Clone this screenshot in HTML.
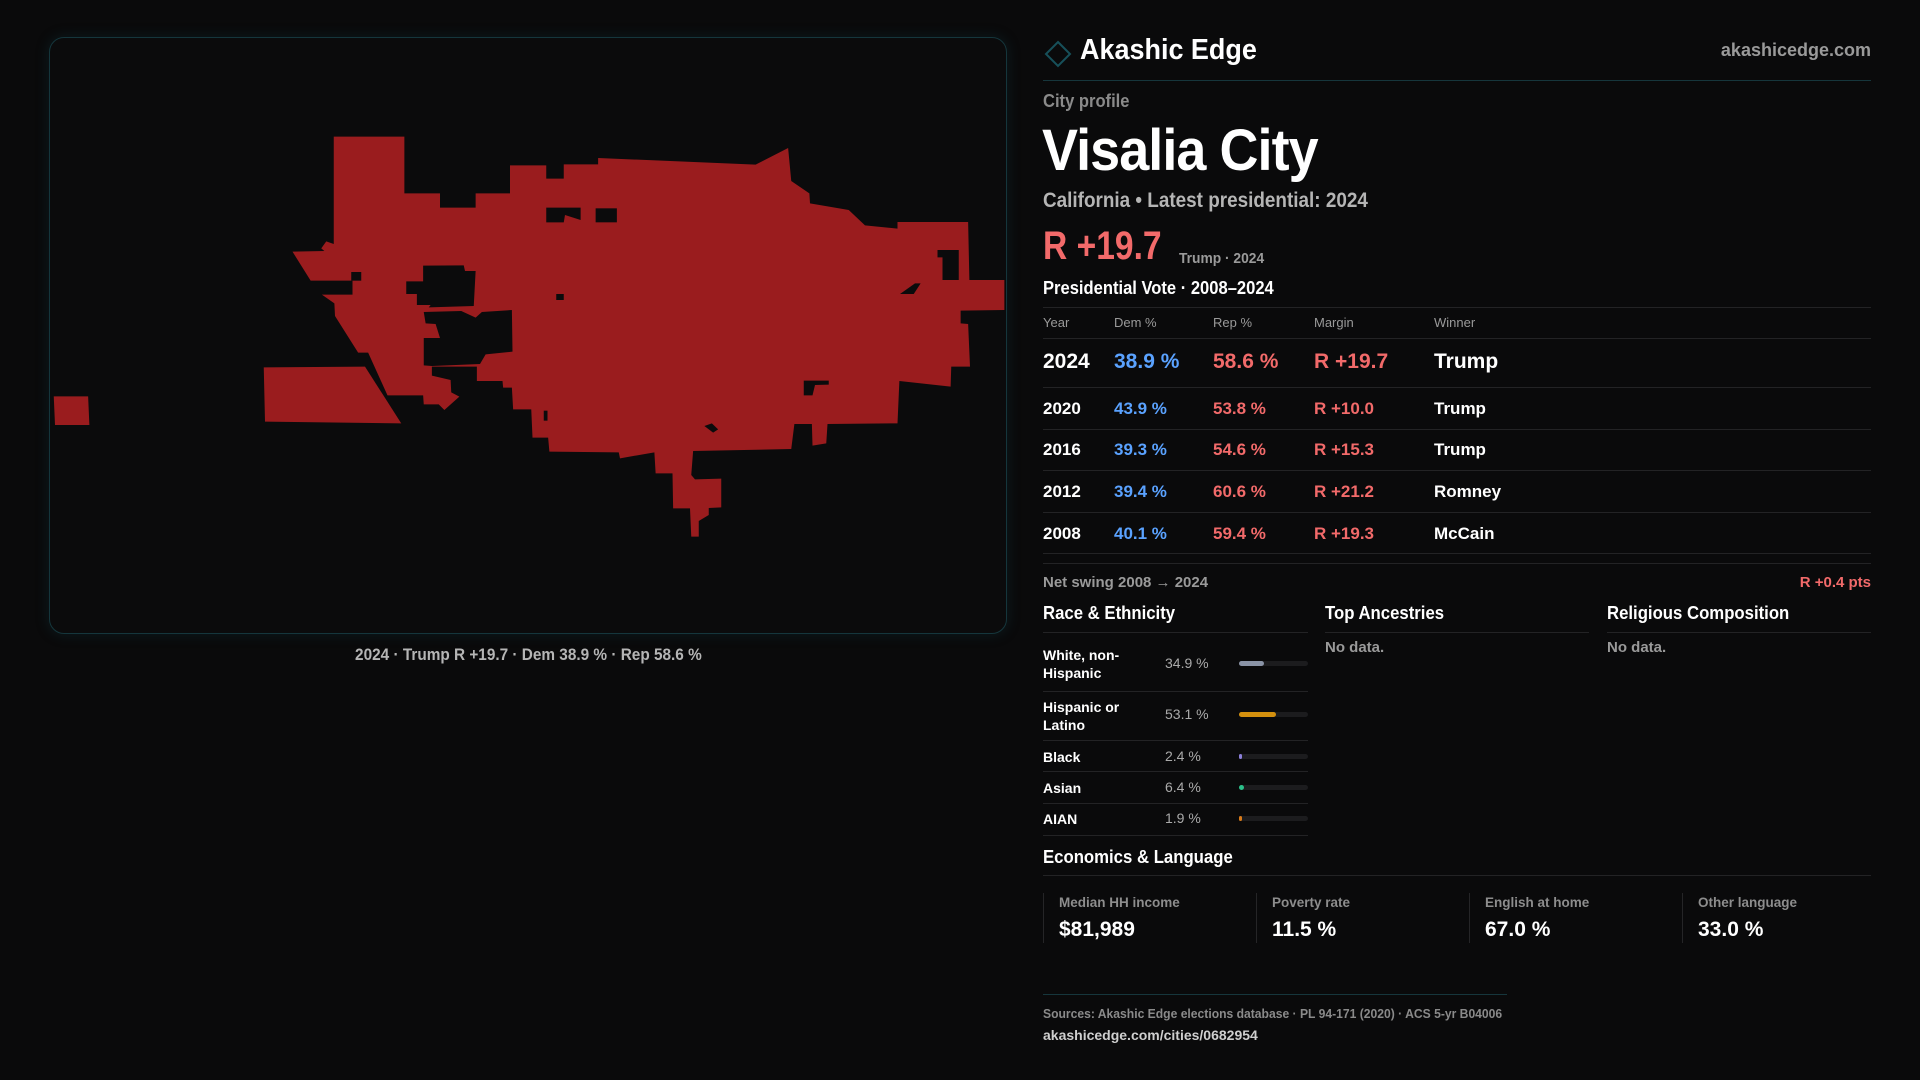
<!DOCTYPE html>
<html><head><meta charset="utf-8"><style>
*{margin:0;padding:0;box-sizing:border-box}
body{width:1920px;height:1080px;background:#0a0a0b;font-family:"Liberation Sans",sans-serif;color:#fff;position:relative;overflow:hidden}
.a{position:absolute;white-space:nowrap}
.mapbox{position:absolute;left:49px;top:37px;width:958px;height:597px;border:1px solid #15363c;border-radius:15px;background:#0b0b0c;box-shadow:0 0 14px rgba(20,80,90,.25)}
.ln{position:absolute;height:1px;background:#232325}
.g{color:#9a9a9a}
.red{color:#f26a6a}.blue{color:#5aa2ff}
.row{position:absolute;left:1043px;width:828px;font-weight:bold;font-size:17px;white-space:nowrap}
.row span{position:absolute;top:0;white-space:nowrap}
.bar{position:absolute;left:1239px;width:69px;height:5px;border-radius:3px;background:#1c1c1e}
.bar i{display:block;height:5px;border-radius:3px}
.lab{position:absolute;left:1043px;font-size:14px;font-weight:bold;line-height:18px;white-space:nowrap}
.pct{position:absolute;left:1165px;font-size:14px;color:#aaa;white-space:nowrap}
.cell{position:absolute;top:893px;height:50px;border-left:1px solid #252527;padding-left:15px;white-space:nowrap}
.cell .l{font-size:13.5px;color:#8d8d8d;font-weight:bold;margin-top:2px}
.cell .v{font-size:21px;font-weight:bold;margin-top:8px}
.sx{display:inline-block;transform-origin:left top}
</style></head><body>
<div class="mapbox"></div>
<svg class="a" style="left:40px;top:120px" width="980" height="440" viewBox="0 0 1568 1320" preserveAspectRatio="none">
<g fill="#9a1c1e">
<polygon points="470,50 583,50 583,220 640,220 640,263 697,263 697,220 752,220 752,136 810,136 810,176 838,176 838,133 893,133 893,114 1145,134 1197,84 1202,183 1231,220 1232,250 1294,270 1320,316 1372,326 1372,306 1485,306 1487,480 1543,480 1543,570 1473,572 1473,610 1485,612 1488,740 1458,740 1457,800 1375,783 1372,910 1260,912 1258,970 1236,977 1235,912 1207,912 1202,987 1045,993 1042,1065 1048,1078 1090,1076 1090,1162 1070,1164 1070,1185 1054,1203 1054,1250 1042,1250 1040,1165 1013,1165 1012,1060 985,1060 983,997 928,1015 926,997 815,995 813,953 788,953 786,868 757,868 755,803 741,803 740,783 699,783 699,740 627,740 627,767 657,780 658,817 671,830 647,870 638,853 614,853 613,826 556,826 525,698 509,698 472,588 471,550 451,524 500,524 500,482 433,482 404,395 455,393 450,385 458,364 470,372"/>
<polygon points="358,742 520,740 578,910 360,905"/>
<polygon points="22,829 77,829 79,915 24,915"/>
</g>
<g fill="#0b0b0c">
<polygon points="613,437 678,436 680,453 697,453 694,558 622,562 625,555 603,555 603,522 586,522 586,484 613,484"/>
<polygon points="614,576 674,573 697,593 707,576 755,570 756,695 713,703 704,732 627,738 614,736 614,654 640,654 633,612 617,610"/>
<polygon points="810,263 865,263 865,300 840,285 838,307 810,307"/>
<rect x="889" y="265" width="34" height="42"/>
<rect x="498" y="456" width="16" height="26"/>
<rect x="826" y="522" width="12" height="18"/>
<polygon points="1436,390 1470,390 1470,480 1444,480 1444,412 1436,412"/>
<polygon points="1376,522 1398,522 1409,490 1400,490"/>
<polygon points="1222,782 1262,782 1262,794 1240,795 1236,826 1222,826"/>
<rect x="806" y="872" width="6" height="30"/>
<polygon points="1063,918 1075,910 1085,928 1077,938"/>
</g>
</svg>
<div class="a" style="left:0;width:1056px;top:646px;text-align:center;font-size:16.5px;font-weight:bold;color:#b5b5b5"><span class="sx" style="transform:scaleX(.93);transform-origin:center">2024 · Trump R +19.7 · Dem 38.9 % · Rep 58.6 %</span></div>

<svg class="a" style="left:1044px;top:40px" width="28" height="28"><polygon points="14,2 26,14 14,26 2,14" fill="none" stroke="#17505a" stroke-width="2"/></svg>
<div class="a" style="left:1080px;top:34px;font-size:29px;font-weight:bold"><span class="sx" style="transform:scaleX(.93)">Akashic Edge</span></div>
<div class="a g" style="right:49px;top:40px;font-size:18px;font-weight:bold">akashicedge.com</div>
<div class="ln" style="left:1043px;width:828px;top:80px;background:#16363c"></div>
<div class="a" style="left:1043px;top:91px;font-size:18px;color:#8a8a8a;font-weight:bold"><span class="sx" style="transform:scaleX(.92)">City profile</span></div>
<div class="a" style="left:1042px;top:117px;font-size:58px;font-weight:bold;letter-spacing:-1px"><span class="sx" style="transform:scaleX(.93)">Visalia City</span></div>
<div class="a" style="left:1043px;top:189px;font-size:21px;color:#b5b5b5;font-weight:bold"><span class="sx" style="transform:scaleX(.9)">California • Latest presidential: 2024</span></div>
<div class="a red" style="left:1043px;top:224px;font-size:40px;font-weight:bold"><span class="sx" style="transform:scaleX(.84)">R +19.7</span></div>
<div class="a g" style="left:1179px;top:250px;font-size:15px;font-weight:bold"><span class="sx" style="transform:scaleX(.92)">Trump · 2024</span></div>
<div class="a" style="left:1043px;top:278px;font-size:18px;font-weight:bold"><span class="sx" style="transform:scaleX(.92)">Presidential Vote · 2008–2024</span></div>
<div class="ln" style="left:1043px;width:828px;top:307px"></div>
<div class="row g" style="top:315px;font-size:13px;font-weight:normal"><span style="left:0">Year</span><span style="left:71px">Dem %</span><span style="left:170px">Rep %</span><span style="left:271px">Margin</span><span style="left:391px">Winner</span></div>
<div class="ln" style="left:1043px;width:828px;top:338px"></div>
<div class="row" style="top:350px;font-size:21px"><span style="left:0">2024</span><span class="blue" style="left:71px">38.9 %</span><span class="red" style="left:170px">58.6 %</span><span class="red" style="left:271px">R +19.7</span><span style="left:391px">Trump</span></div>
<div class="ln" style="left:1043px;width:828px;top:387px"></div>
<div class="row" style="top:399px"><span style="left:0">2020</span><span class="blue" style="left:71px">43.9 %</span><span class="red" style="left:170px">53.8 %</span><span class="red" style="left:271px">R +10.0</span><span style="left:391px">Trump</span></div>
<div class="ln" style="left:1043px;width:828px;top:429px"></div>
<div class="row" style="top:440px"><span style="left:0">2016</span><span class="blue" style="left:71px">39.3 %</span><span class="red" style="left:170px">54.6 %</span><span class="red" style="left:271px">R +15.3</span><span style="left:391px">Trump</span></div>
<div class="ln" style="left:1043px;width:828px;top:470px"></div>
<div class="row" style="top:482px"><span style="left:0">2012</span><span class="blue" style="left:71px">39.4 %</span><span class="red" style="left:170px">60.6 %</span><span class="red" style="left:271px">R +21.2</span><span style="left:391px">Romney</span></div>
<div class="ln" style="left:1043px;width:828px;top:512px"></div>
<div class="row" style="top:524px"><span style="left:0">2008</span><span class="blue" style="left:71px">40.1 %</span><span class="red" style="left:170px">59.4 %</span><span class="red" style="left:271px">R +19.3</span><span style="left:391px">McCain</span></div>
<div class="ln" style="left:1043px;width:828px;top:553px"></div>
<div class="ln" style="left:1043px;width:828px;top:563px"></div>
<div class="a g" style="left:1043px;top:574px;font-size:15px;font-weight:bold">Net swing 2008 → 2024</div>
<div class="a red" style="right:49px;top:574px;font-size:15px;font-weight:bold">R +0.4 pts</div>

<div class="a" style="left:1043px;top:603px;font-size:18px;font-weight:bold"><span class="sx" style="transform:scaleX(.93)">Race &amp; Ethnicity</span></div>
<div class="a" style="left:1325px;top:603px;font-size:18px;font-weight:bold"><span class="sx" style="transform:scaleX(.93)">Top Ancestries</span></div>
<div class="a" style="left:1607px;top:603px;font-size:18px;font-weight:bold"><span class="sx" style="transform:scaleX(.93)">Religious Composition</span></div>
<div class="ln" style="left:1043px;width:265px;top:632px"></div>
<div class="ln" style="left:1325px;width:264px;top:632px"></div>
<div class="ln" style="left:1607px;width:264px;top:632px"></div>
<div class="a g" style="left:1325px;top:639px;font-size:15px;font-weight:bold">No data.</div>
<div class="a g" style="left:1607px;top:639px;font-size:15px;font-weight:bold">No data.</div>

<div class="lab" style="top:646px">White, non-<br>Hispanic</div><div class="pct" style="top:655px">34.9 %</div><div class="bar" style="top:661px"><i style="width:36%;background:#8a93a6"></i></div>
<div class="ln" style="left:1043px;width:265px;top:691px"></div>
<div class="lab" style="top:698px">Hispanic or<br>Latino</div><div class="pct" style="top:706px">53.1 %</div><div class="bar" style="top:712px"><i style="width:53%;background:#d4900e"></i></div>
<div class="ln" style="left:1043px;width:265px;top:740px"></div>
<div class="lab" style="top:748px">Black</div><div class="pct" style="top:748px">2.4 %</div><div class="bar" style="top:754px"><i style="width:3px;background:#8b7fd9"></i></div>
<div class="ln" style="left:1043px;width:265px;top:771px"></div>
<div class="lab" style="top:779px">Asian</div><div class="pct" style="top:779px">6.4 %</div><div class="bar" style="top:785px"><i style="width:5px;background:#2bc08a"></i></div>
<div class="ln" style="left:1043px;width:265px;top:803px"></div>
<div class="lab" style="top:810px">AIAN</div><div class="pct" style="top:810px">1.9 %</div><div class="bar" style="top:816px"><i style="width:3px;background:#d97b1a"></i></div>
<div class="ln" style="left:1043px;width:265px;top:835px"></div>

<div class="a" style="left:1043px;top:847px;font-size:18px;font-weight:bold"><span class="sx" style="transform:scaleX(.93)">Economics &amp; Language</span></div>
<div class="ln" style="left:1043px;width:828px;top:875px"></div>
<div class="cell" style="left:1043px"><div class="l">Median HH income</div><div class="v">$81,989</div></div>
<div class="cell" style="left:1256px"><div class="l">Poverty rate</div><div class="v">11.5 %</div></div>
<div class="cell" style="left:1469px"><div class="l">English at home</div><div class="v">67.0 %</div></div>
<div class="cell" style="left:1682px"><div class="l">Other language</div><div class="v">33.0 %</div></div>

<div class="ln" style="left:1043px;width:464px;top:994px;background:#16363c"></div>
<div class="a" style="left:1043px;top:1007px;font-size:12.5px;color:#8a8a8a;font-weight:bold"><span class="sx" style="transform:scaleX(.97)">Sources: Akashic Edge elections database · PL 94-171 (2020) · ACS 5-yr B04006</span></div>
<div class="a" style="left:1043px;top:1027px;font-size:14px;color:#cfcfcf;font-weight:bold">akashicedge.com/cities/0682954</div>
</body></html>
